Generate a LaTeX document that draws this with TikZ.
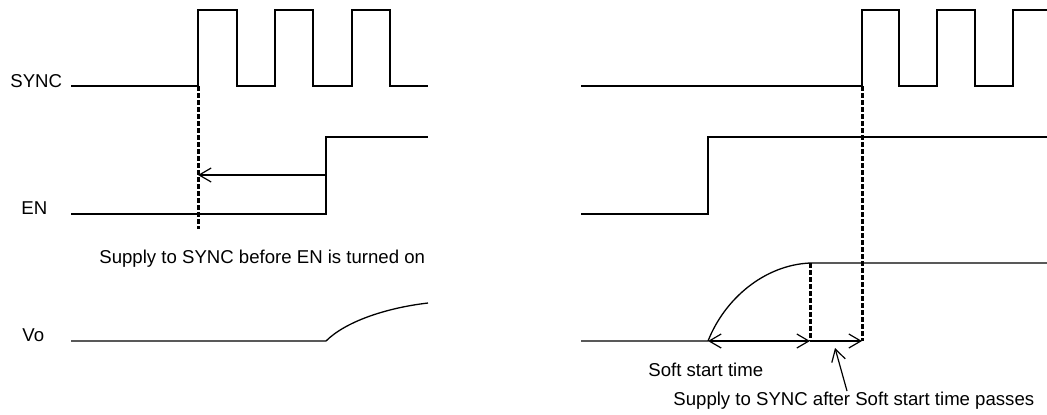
\documentclass[tikz,border=0pt]{standalone}
\usepackage{fontspec}
\setmainfont{Liberation Sans}
\usetikzlibrary{arrows.meta}
\begin{document}
\begin{tikzpicture}[x=0.5pt,y=-0.5pt,
  wave/.style={line width=0.65pt, line join=miter},
  marker/.style={line width=1.5pt, dash pattern=on 2.5pt off 1pt},
  lbl/.style={font=\fontsize{9.3}{11}\selectfont, inner sep=0pt, anchor=base west},
  barb/.style={-{Straight Barb[length=6pt,width=7pt]}, line width=0.6pt},
  dbarb/.style={{Straight Barb[length=6pt,width=7pt]}-{Straight Barb[length=6pt,width=7pt]}, line width=0.6pt}
]
\useasboundingbox (0,0) rectangle (1047,414);
% ---------- left panel ----------
\node[lbl] (syncL) at (10,87) {SYNC};
\node[lbl] (enL) at (21,214) {EN};
\node[lbl] (voL) at (22,341) {Vo};
\node[lbl] (noteL) at (99,263) {Supply to SYNC before EN is turned on};
% SYNC waveform
\draw[wave] (71,86) -- (198,86) -- (198,10) -- (237,10) -- (237,86) -- (275,86) -- (275,10)
  -- (313,10) -- (313,86) -- (352,86) -- (352,10) -- (390,10) -- (390,86) -- (428,86);
% EN waveform
\draw[wave] (71,214) -- (326,214) -- (326,137) -- (428,137);
% Vo waveform
\draw[wave] (71,341) -- (326,341) .. controls (345,322) and (385,308) .. (428,303);
% marker and arrow
\coordinate (mkTopL) at (198,86);
\coordinate (mkBotL) at (198,229);
\draw[marker] (mkTopL) -- (mkBotL);
\coordinate (enEdgeL) at (326,175);
\coordinate (mkMidL) at (198,175);
\draw[barb] (enEdgeL) -- (mkMidL);
% ---------- right panel ----------
\node[lbl] (ssLbl) at (648,376) {Soft start time};
\node[lbl] (noteR) at (673,405) {Supply to SYNC after Soft start time passes};
% SYNC waveform
\draw[wave] (581,86) -- (862,86) -- (862,10) -- (899,10) -- (899,86) -- (937,86) -- (937,10)
  -- (975,10) -- (975,86) -- (1013,86) -- (1013,10) -- (1047,10);
% EN waveform
\draw[wave] (581,214) -- (708,214) -- (708,137) -- (1047,137);
% Vo waveform
\draw[wave] (581,341) -- (708,341) .. controls (725,298) and (765,265) .. (810,263) -- (1047,263);
% markers
\coordinate (mkTopR) at (862,86);
\coordinate (mkBotR) at (862,341);
\draw[marker] (mkTopR) -- (mkBotR);
\coordinate (ssTop) at (810,263);
\coordinate (ssEnd) at (810,341);
\draw[marker] (ssTop) -- (ssEnd);
% time arrows
\coordinate (ssStart) at (708,341);
\draw[dbarb] (ssStart) -- (ssEnd);
\draw[barb] (ssEnd) -- (mkBotR);
% pointer
\coordinate (ptrFoot) at (847,391);
\coordinate (ptrTip) at (835,348);
\draw[barb] (ptrFoot) -- (ptrTip);
\end{tikzpicture}
\end{document}
